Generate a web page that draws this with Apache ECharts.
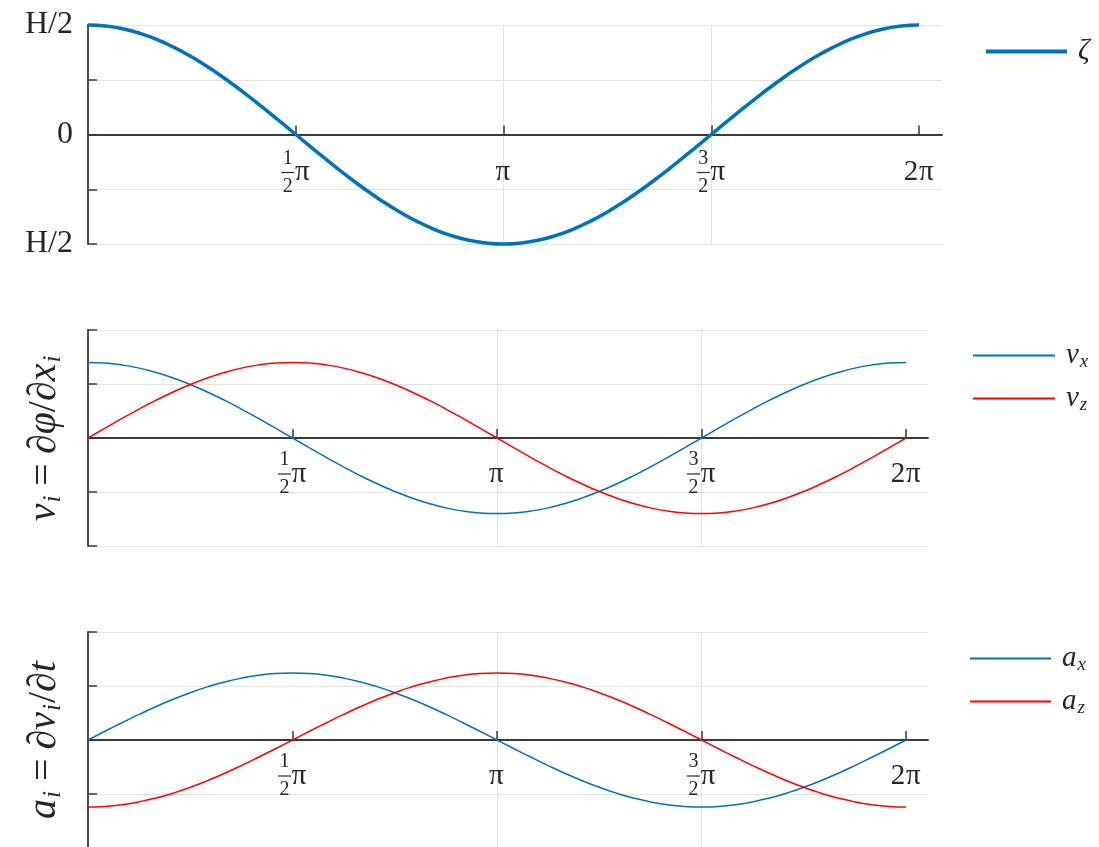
<!DOCTYPE html>
<html>
<head>
<meta charset="utf-8">
<script src="https://cdn.jsdelivr.net/npm/echarts@6/dist/echarts.min.js"></script>
<style>html,body{margin:0;padding:0;background:#fff}#c{width:1099px;height:847px}</style>
</head>
<body>
<div id="c"></div>
<script>
// ---- data ----
const phase = [0, 0.1309, 0.2618, 0.3927, 0.5236, 0.6545, 0.7854, 0.9163, 1.0472, 1.1781, 1.3090, 1.4399, 1.5708,
  1.7017, 1.8326, 1.9635, 2.0944, 2.2253, 2.3562, 2.4871, 2.6180, 2.7489, 2.8798, 3.0107, 3.1416,
  3.2725, 3.4034, 3.5343, 3.6652, 3.7961, 3.9270, 4.0579, 4.1888, 4.3197, 4.4506, 4.5815, 4.7124,
  4.8433, 4.9742, 5.1051, 5.2360, 5.3669, 5.4978, 5.6287, 5.7596, 5.8905, 6.0214, 6.1523, 6.2832];
const zeta = [1, 0.991, 0.966, 0.924, 0.866, 0.793, 0.707, 0.609, 0.5, 0.383, 0.259, 0.131, 0,
  -0.131, -0.259, -0.383, -0.5, -0.609, -0.707, -0.793, -0.866, -0.924, -0.966, -0.991, -1,
  -0.991, -0.966, -0.924, -0.866, -0.793, -0.707, -0.609, -0.5, -0.383, -0.259, -0.131, 0,
  0.131, 0.259, 0.383, 0.5, 0.609, 0.707, 0.793, 0.866, 0.924, 0.966, 0.991, 1];
const vx = [0.70, 0.694, 0.676, 0.647, 0.606, 0.555, 0.495, 0.426, 0.35, 0.268, 0.181, 0.091, 0,
  -0.091, -0.181, -0.268, -0.35, -0.426, -0.495, -0.555, -0.606, -0.647, -0.676, -0.694, -0.70,
  -0.694, -0.676, -0.647, -0.606, -0.555, -0.495, -0.426, -0.35, -0.268, -0.181, -0.091, 0,
  0.091, 0.181, 0.268, 0.35, 0.426, 0.495, 0.555, 0.606, 0.647, 0.676, 0.694, 0.70];
const vz = [0, 0.091, 0.181, 0.268, 0.35, 0.426, 0.495, 0.555, 0.606, 0.647, 0.676, 0.694, 0.70,
  0.694, 0.676, 0.647, 0.606, 0.555, 0.495, 0.426, 0.35, 0.268, 0.181, 0.091, 0,
  -0.091, -0.181, -0.268, -0.35, -0.426, -0.495, -0.555, -0.606, -0.647, -0.676, -0.694, -0.70,
  -0.694, -0.676, -0.647, -0.606, -0.555, -0.495, -0.426, -0.35, -0.268, -0.181, -0.091, 0];
const ax = [0, 0.081, 0.16, 0.237, 0.31, 0.377, 0.438, 0.492, 0.537, 0.573, 0.599, 0.615, 0.62,
  0.615, 0.599, 0.573, 0.537, 0.492, 0.438, 0.377, 0.31, 0.237, 0.16, 0.081, 0,
  -0.081, -0.16, -0.237, -0.31, -0.377, -0.438, -0.492, -0.537, -0.573, -0.599, -0.615, -0.62,
  -0.615, -0.599, -0.573, -0.537, -0.492, -0.438, -0.377, -0.31, -0.237, -0.16, -0.081, 0];
const az = [-0.62, -0.615, -0.599, -0.573, -0.537, -0.492, -0.438, -0.377, -0.31, -0.237, -0.16, -0.081, 0,
  0.081, 0.16, 0.237, 0.31, 0.377, 0.438, 0.492, 0.537, 0.573, 0.599, 0.615, 0.62,
  0.615, 0.599, 0.573, 0.537, 0.492, 0.438, 0.377, 0.31, 0.237, 0.16, 0.081, 0,
  -0.081, -0.16, -0.237, -0.31, -0.377, -0.438, -0.492, -0.537, -0.573, -0.599, -0.615, -0.62];
const xTickValues = [Math.PI / 2, Math.PI, 3 * Math.PI / 2, 2 * Math.PI];
const xTickLabels = ['1/2 π', 'π', '3/2 π', '2π'];
const yTopTickLabels = { '1': 'H/2', '0': '0', '-1': 'H/2' };
const seriesNames = ['ζ', 'vx', 'vz', 'ax', 'az'];

// ---- styling ----
const SERIF = '"Liberation Serif", "DejaVu Serif", serif';
const TXT = '#262626';
const AXIS = '#3a3a3a';
const GRID = '#e3e3e3';
const BLUE = '#0072BD';
const RED = '#FF0000';

const pair = arr => phase.map((p, i) => [p, arr[i]]);

function xLabelFormatter(v) {
  let idx = 0, best = 1e9;
  xTickValues.forEach((t, i) => { const d = Math.abs(t - v); if (d < best) { best = d; idx = i; } });
  const s = xTickLabels[idx];
  if (s.indexOf('/') >= 0) {
    const num = s.split('/')[0];
    const den = s.split('/')[1].split(' ')[0];
    return '{num|' + num + '}{gap| }\n{bar| }{pi|π}\n{num|' + den + '}{gap| }';
  }
  if (s === 'π') return '{e| }\n{pi|π}\n{e| }';
  return '{e| }\n{big|' + s.replace('π', '') + '}{pi|π}\n{e| }';
}
const xRich = {
  num: { fontFamily: SERIF, fontSize: 20, color: TXT, width: 13, align: 'center', lineHeight: 14 },
  gap: { width: 16, lineHeight: 14 },
  bar: { width: 13, height: 1.2, backgroundColor: TXT, lineHeight: 14 },
  pi: { fontFamily: SERIF, fontSize: 29, color: TXT, width: 16, align: 'left', lineHeight: 14 },
  big: { fontFamily: SERIF, fontSize: 29, color: TXT, lineHeight: 14 },
  e: { fontSize: 10, lineHeight: 14 }
};

function makeX(gridIndex, max, offset, margin) {
  return {
    type: 'value', gridIndex, min: 0, max, interval: Math.PI / 2, offset,
    axisLine: { onZero: false, lineStyle: { color: AXIS, width: 1.8 } },
    axisTick: { inside: true, length: 9, customValues: xTickValues, lineStyle: { color: AXIS, width: 1.5 } },
    axisLabel: { customValues: xTickValues, margin, formatter: xLabelFormatter, rich: xRich },
    splitLine: { show: true, showMinLine: false, showMaxLine: false, lineStyle: { color: GRID, width: 1 } }
  };
}
function makeY(gridIndex, extra) {
  return Object.assign({
    type: 'value', gridIndex, min: -1, max: 1, interval: 0.5,
    axisLine: { show: true, lineStyle: { color: AXIS, width: 1.8 } },
    axisTick: { show: true, inside: true, length: 9, lineStyle: { color: AXIS, width: 1.5 } },
    axisLabel: { show: false },
    splitLine: { show: true, lineStyle: { color: GRID, width: 1 } }
  }, extra);
}

const nameRich = {
  it: { fontFamily: SERIF, fontStyle: 'italic', fontSize: 40, color: TXT, lineHeight: 42 },
  n: { fontFamily: SERIF, fontSize: 40, color: TXT, lineHeight: 42 },
  eq: { fontFamily: SERIF, fontSize: 40, color: TXT, lineHeight: 42, padding: [0, 9, 0, 9] },
  sub: { fontFamily: SERIF, fontStyle: 'italic', fontSize: 25, color: TXT, padding: [18, 1, 0, 1] }
};
const legRich = {
  it: { fontFamily: SERIF, fontStyle: 'italic', fontSize: 29, color: TXT, lineHeight: 30, padding: [0, 0, 0, 6] },
  sub: { fontFamily: SERIF, fontStyle: 'italic', fontSize: 19, color: TXT, padding: [12, 0, 0, 1] }
};
function legFmt(name) {
  if (name === 'ζ') return '{it|ζ}';
  return '{it|' + name[0] + '}{sub|' + name[1] + '}';
}
function makeLegend(data, left, top, itemHeight, itemWidth, gap) {
  return {
    data, left, top, orient: 'vertical', padding: 0, itemGap: gap,
    icon: 'rect', itemWidth, itemHeight, selectedMode: false,
    formatter: legFmt, textStyle: { rich: legRich, fontFamily: SERIF, fontSize: 28, color: TXT }
  };
}
function line(name, arr, color, width, xi) {
  return {
    type: 'line', name, data: pair(arr), xAxisIndex: xi, yAxisIndex: xi,
    showSymbol: false, symbol: 'none', smooth: true, clip: false,
    lineStyle: { color, width }, itemStyle: { color }, z: 3
  };
}

const option = {
  animation: false,
  backgroundColor: '#fff',
  grid: [
    { left: 88, top: 25, width: 854, height: 219, outerBoundsMode: 'none', containLabel: false },
    { left: 88, top: 330, width: 840, height: 216, outerBoundsMode: 'none', containLabel: false },
    { left: 88, top: 632, width: 840, height: 216, outerBoundsMode: 'none', containLabel: false }
  ],
  xAxis: [makeX(0, 6.457, -109.5, 17), makeX(1, 6.452, -108, 15), makeX(2, 6.452, -108, 15)],
  yAxis: [
    makeY(0, {
      axisLabel: {
        show: true, margin: 15, fontFamily: SERIF, fontSize: 32, color: TXT,
        formatter: v => (yTopTickLabels[String(v)] !== undefined ? yTopTickLabels[String(v)] : '')
      }
    }),
    makeY(1, {
      name: '{it|v}{sub|i}{eq|=}{n|∂}{it|φ}{n|/∂}{it|x}{sub|i}',
      nameLocation: 'middle', nameGap: 22, nameTextStyle: { rich: nameRich }
    }),
    makeY(2, {
      name: '{it|a}{sub|i}{eq|=}{n|∂}{it|v}{sub|i}{n|/∂}{it|t}',
      nameLocation: 'middle', nameGap: 22, nameTextStyle: { rich: nameRich }
    })
  ],
  legend: [
    makeLegend([seriesNames[0]], 986, 37, 4, 81, 10),
    makeLegend([seriesNames[1], seriesNames[2]], 973, 341, 2, 82, 13),
    makeLegend([seriesNames[3], seriesNames[4]], 970, 644, 2, 81, 13)
  ],
  series: [
    line(seriesNames[0], zeta, BLUE, 3.5, 0),
    line(seriesNames[1], vx, BLUE, 1.5, 1),
    line(seriesNames[2], vz, RED, 1.5, 1),
    line(seriesNames[3], ax, BLUE, 1.5, 2),
    line(seriesNames[4], az, RED, 1.5, 2)
  ]
};
const chart = echarts.init(document.getElementById('c'), null, { renderer: 'canvas' });
chart.setOption(option);
</script>
</body>
</html>
